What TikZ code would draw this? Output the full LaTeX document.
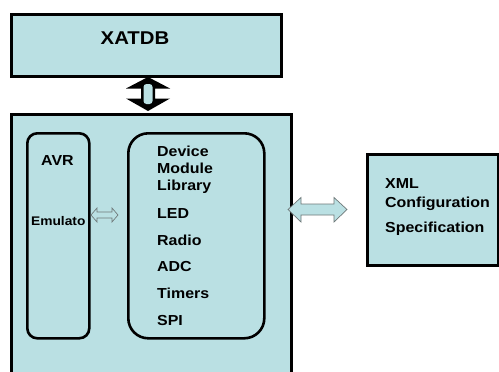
\documentclass[tikz,border=0pt]{standalone}
\usepackage{fontspec}
\setmainfont[FakeStretch=1.1]{Liberation Sans}
\definecolor{boxfill}{RGB}{186,224,227}
\definecolor{arrowline}{RGB}{110,120,120}
\tikzset{
  outerbox/.style={draw=black, fill=boxfill, line width=3pt, anchor=north west, inner sep=0pt},
  roundbox/.style={draw=black, fill=boxfill, line width=2.6pt, anchor=north west, inner sep=0pt},
  lbl/.style={font=\bfseries\fontsize{14.5}{16}\selectfont, anchor=base west, inner sep=0pt},
  blockarrow/.style={draw=arrowline, fill=boxfill, line width=0.7pt, line join=miter}
}
\begin{document}
\begin{tikzpicture}[x=1pt,y=-1pt]
\useasboundingbox (0,0) rectangle (499,372);
\clip (0,0) rectangle (499,372);
\fill[white] (0,0) rectangle (499,372);

% boxes
\node[outerbox, minimum width=270pt, minimum height=62pt] (xatdb) at (10,13) {};
\node[outerbox, minimum width=280pt, minimum height=300pt] (main) at (10,113) {};
\node[roundbox, rounded corners=10pt, minimum width=62pt, minimum height=205pt] (avr) at (26,132) {};
\node[roundbox, rounded corners=20pt, minimum width=136pt, minimum height=205pt] (dev) at (127,132) {};
\node[outerbox, minimum width=131pt, minimum height=111pt] (xml) at (366,153) {};

% texts
\node[font=\bfseries\fontsize{18.5}{20}\selectfont, anchor=base, inner sep=0pt] (t0) at (135,45) {XATDB};
\node[lbl] (tavr) at (41,165.7) {AVR};
\node[font=\bfseries\fontsize{12.5}{14}\selectfont, anchor=base west, inner sep=0pt] (temu) at (31,225) {Emulato};
\node[lbl] (t1) at (157,156) {Device};
\node[lbl] (t2) at (157,173) {Module};
\node[lbl] (t3) at (157,190.5) {Library};
\node[lbl] (t4) at (157,218.3) {LED};
\node[lbl] (t5) at (157,245) {Radio};
\node[lbl] (t6) at (157,271.7) {ADC};
\node[lbl] (t7) at (157,298.3) {Timers};
\node[lbl] (t8) at (157,325) {SPI};
\node[lbl] (x1) at (385,188.4) {XML};
\node[lbl] (x2) at (385,207.5) {Configuration};
\node[lbl] (x3) at (385,232) {Specification};

% vertical block arrow between XATDB and main
\fill[black] (148,77) -- (170,88.5) -- (155,88.5) -- (155,98.5) -- (170,98.5) -- (148,111)
  -- (126,98.5) -- (141,98.5) -- (141,88.5) -- (126,88.5) -- cycle;
\fill[boxfill, rounded corners=3pt] (143.5,84) rectangle (152.5,104);

% small double arrow between AVR and device library
\draw[blockarrow, fill=boxfill] (91,215) -- (97,208) -- (97,212) -- (112,212) -- (112,208) -- (118,215)
  -- (112,222) -- (112,218) -- (97,218) -- (97,222) -- cycle;

% double arrow between main and XML
\draw[blockarrow] (288,209.5) -- (301,197.5) -- (301,204) -- (334,204) -- (334,197.5) -- (347,209.5)
  -- (334,222) -- (334,215) -- (301,215) -- (301,222) -- cycle;
\end{tikzpicture}
\end{document}
